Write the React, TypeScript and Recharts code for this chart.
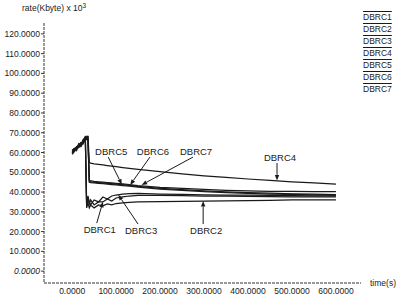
import { LineChart, Line, XAxis, YAxis, ReferenceLine } from "recharts";

const times = [0, 5, 10, 15, 20, 25, 27, 30, 33, 36, 39, 42, 50, 60, 70, 80, 90, 100, 115, 130, 150, 200, 250, 300, 350, 400, 450, 500, 550, 600];

const seriesNames = ["DBRC1", "DBRC2", "DBRC3", "DBRC4", "DBRC5", "DBRC6", "DBRC7"];

const dbrc1 = [60, 61.5, 62.5, 63, 64.5, 65, 66, 67, 33, 37, 34, 36, 33.5, 35, 35, 36.5, 35.5, 37, 37.5, 38, 38.3, 38.3, 38.2, 38, 37.9, 37.8, 37.7, 37.6, 37.5, 37.5];
const dbrc2 = [59.5, 61, 62, 62.5, 65, 64.5, 66.5, 67.5, 32, 34.5, 32, 33.5, 32, 33.5, 33, 34, 33.5, 34.2, 34.5, 34.8, 35, 35.2, 35.3, 35.4, 35.5, 35.6, 35.8, 36, 36, 36];
const dbrc3 = [61, 62, 61.5, 64, 63.5, 66, 65.5, 68, 34, 38, 35, 33.5, 36, 35, 37.5, 36.5, 38, 38.5, 39, 39.2, 39.3, 39, 38.8, 38.6, 38.5, 38.4, 38.3, 38.2, 38.1, 38.1];
const dbrc4 = [60.5, 62, 61, 64.5, 64, 66.5, 67, 68, 67, 68.5, 55, 54.6, 54.3, 54, 53.7, 53.4, 53.1, 52.8, 52.4, 52, 51.5, 50.3, 49.2, 48.2, 47.4, 46.6, 45.9, 45.2, 44.6, 44];
const dbrc5 = [60, 61, 63, 62.5, 64, 65.5, 66, 67, 66.5, 67.5, 45.5, 45.2, 45, 44.8, 44.6, 44.4, 44.2, 44, 43.7, 43.4, 42.9, 41.9, 41.2, 40.6, 40.1, 39.7, 39.4, 39.1, 38.9, 38.7];
const dbrc6 = [59, 60.5, 62, 63.5, 63, 65, 65.5, 66.5, 67, 66, 45, 44.8, 44.6, 44.4, 44.2, 44, 43.8, 43.6, 43.3, 43, 42.5, 41.5, 40.8, 40.2, 39.7, 39.3, 39, 38.8, 38.6, 38.5];
const dbrc7 = [61, 62, 62.5, 64, 65, 64.5, 66.5, 66, 68, 67, 46, 45.6, 45.4, 45.2, 45, 44.8, 44.6, 44.4, 44.1, 43.8, 43.3, 42.4, 41.8, 41.3, 40.9, 40.6, 40.4, 40.3, 40.2, 40.2];

const xTicks = [0, 100, 200, 300, 400, 500, 600];
const yTicks = [0, 10, 20, 30, 40, 50, 60, 70, 80, 90, 100, 110, 120];

// labelled arrows: [time, rate] of the label end and of the arrow tip
const annotations = [
  { name: "DBRC5", from: [82, 57.7], to: [113, 43.8] },
  { name: "DBRC6", from: [177, 57.7], to: [132, 43.6] },
  { name: "DBRC7", from: [275, 57.7], to: [158, 43.6] },
  { name: "DBRC4", from: [466, 54.7], to: [466, 45.9] },
  { name: "DBRC1", from: [56, 24.3], to: [70, 35.1] },
  { name: "DBRC3", from: [150, 23.8], to: [105, 38.6] },
  { name: "DBRC2", from: [298, 23.8], to: [298, 35.5] },
];

const values = [dbrc1, dbrc2, dbrc3, dbrc4, dbrc5, dbrc6, dbrc7];
const rows = times.map((t, i) => {
  const row: Record<string, number> = { t };
  seriesNames.forEach((name, k) => {
    row[name] = values[k][i];
  });
  return row;
});

const font = '"Liberation Sans", Arial, sans-serif';
const ink = "#1a1a1a";
const axisStyle = { stroke: "#333", strokeDasharray: "3 1" };
const xDomain = [-64, 657];
const yDomain = [-6, 125.5];
const fmt = (v: number) => v.toFixed(4);

function YTick(props: any) {
  const { x, y, payload } = props;
  return (
    <text
      x={x}
      y={y}
      dy={3}
      textAnchor="end"
      fontSize={8.5}
      fill={ink}
      fontFamily={font}
      fontStyle={payload.value === 0 ? "italic" : "normal"}
    >
      {fmt(payload.value)}
    </text>
  );
}

function arrowShape(name: string) {
  return (p: any) => {
    const { x1, y1, x2, y2 } = p;
    const ang = Math.atan2(y2 - y1, x2 - x1);
    const len = 5.5;
    const half = 2.2;
    const bx = x2 - len * Math.cos(ang);
    const by = y2 - len * Math.sin(ang);
    const nx = -Math.sin(ang) * half;
    const ny = Math.cos(ang) * half;
    const above = y1 < y2;
    return (
      <g>
        <line x1={x1} y1={y1} x2={bx} y2={by} stroke={ink} strokeWidth={1} />
        <polygon points={`${x2},${y2} ${bx + nx},${by + ny} ${bx - nx},${by - ny}`} fill={ink} />
        <text
          x={x1 + 3}
          y={above ? y1 - 2 : y1 + 9.5}
          textAnchor="middle"
          fontSize={9.5}
          fontFamily={font}
          fill={ink}
        >
          {name}
        </text>
      </g>
    );
  };
}

export default function App() {
  return (
    <div
      style={{
        position: "absolute",
        left: 0,
        top: 0,
        width: 398,
        height: 297,
        background: "#fff",
        fontFamily: font,
        color: ink,
      }}
    >
      <LineChart width={398} height={297} data={rows} margin={{ top: 23, right: 37, bottom: 0, left: 0 }}>
        <XAxis
          xAxisId="b"
          dataKey="t"
          type="number"
          domain={xDomain}
          ticks={xTicks}
          interval={0}
          allowDataOverflow
          height={14}
          tickLine={false}
          tickSize={3}
          tickMargin={2}
          tick={{ fontSize: 8.5, fill: ink, fontFamily: font }}
          tickFormatter={fmt}
          axisLine={axisStyle}
        />
        <XAxis
          xAxisId="bi"
          dataKey="t"
          type="number"
          orientation="bottom"
          mirror
          domain={xDomain}
          ticks={xTicks}
          interval={0}
          allowDataOverflow
          height={0}
          tick={false}
          tickSize={4}
          axisLine={false}
          tickLine={{ stroke: "#333" }}
        />
        <XAxis
          xAxisId="top"
          dataKey="t"
          type="number"
          orientation="top"
          mirror
          domain={xDomain}
          ticks={xTicks}
          interval={0}
          allowDataOverflow
          height={0}
          tick={false}
          tickSize={3}
          axisLine={axisStyle}
          tickLine={{ stroke: "#555" }}
        />
        <YAxis
          yAxisId="l"
          type="number"
          domain={yDomain}
          ticks={yTicks}
          interval={0}
          allowDataOverflow
          width={44}
          tickSize={3}
          tickMargin={1}
          tick={<YTick />}
          axisLine={axisStyle}
          tickLine={{ stroke: "#333" }}
        />
        <YAxis
          yAxisId="r"
          type="number"
          orientation="right"
          mirror
          domain={yDomain}
          ticks={yTicks}
          interval={0}
          allowDataOverflow
          width={0}
          tick={false}
          tickSize={3}
          axisLine={axisStyle}
          tickLine={{ stroke: "#555" }}
        />
        {seriesNames.map((name) => (
          <Line
            key={name}
            xAxisId="b"
            yAxisId="l"
            type="linear"
            dataKey={name}
            stroke={ink}
            strokeWidth={1.25}
            dot={false}
            isAnimationActive={false}
          />
        ))}
        {annotations.map((a) => (
          <ReferenceLine
            key={a.name}
            xAxisId="b"
            yAxisId="l"
            segment={[
              { x: a.from[0], y: a.from[1] },
              { x: a.to[0], y: a.to[1] },
            ]}
            shape={arrowShape(a.name)}
          />
        ))}
      </LineChart>
      <div style={{ position: "absolute", left: 22, top: 3, fontSize: 8.5, whiteSpace: "nowrap" }}>
        rate(Kbyte) x 10<span style={{ fontSize: 6.5, position: "relative", top: -3 }}>3</span>
      </div>
      <div style={{ position: "absolute", left: 370, top: 278, fontSize: 8.5 }}>time(s)</div>
      <div style={{ position: "absolute", left: 363, top: 11, fontSize: 8.5, lineHeight: "12px" }}>
        {seriesNames.map((name) => (
          <div key={name} style={{ textDecoration: "overline" }}>
            {name}
          </div>
        ))}
      </div>
    </div>
  );
}
